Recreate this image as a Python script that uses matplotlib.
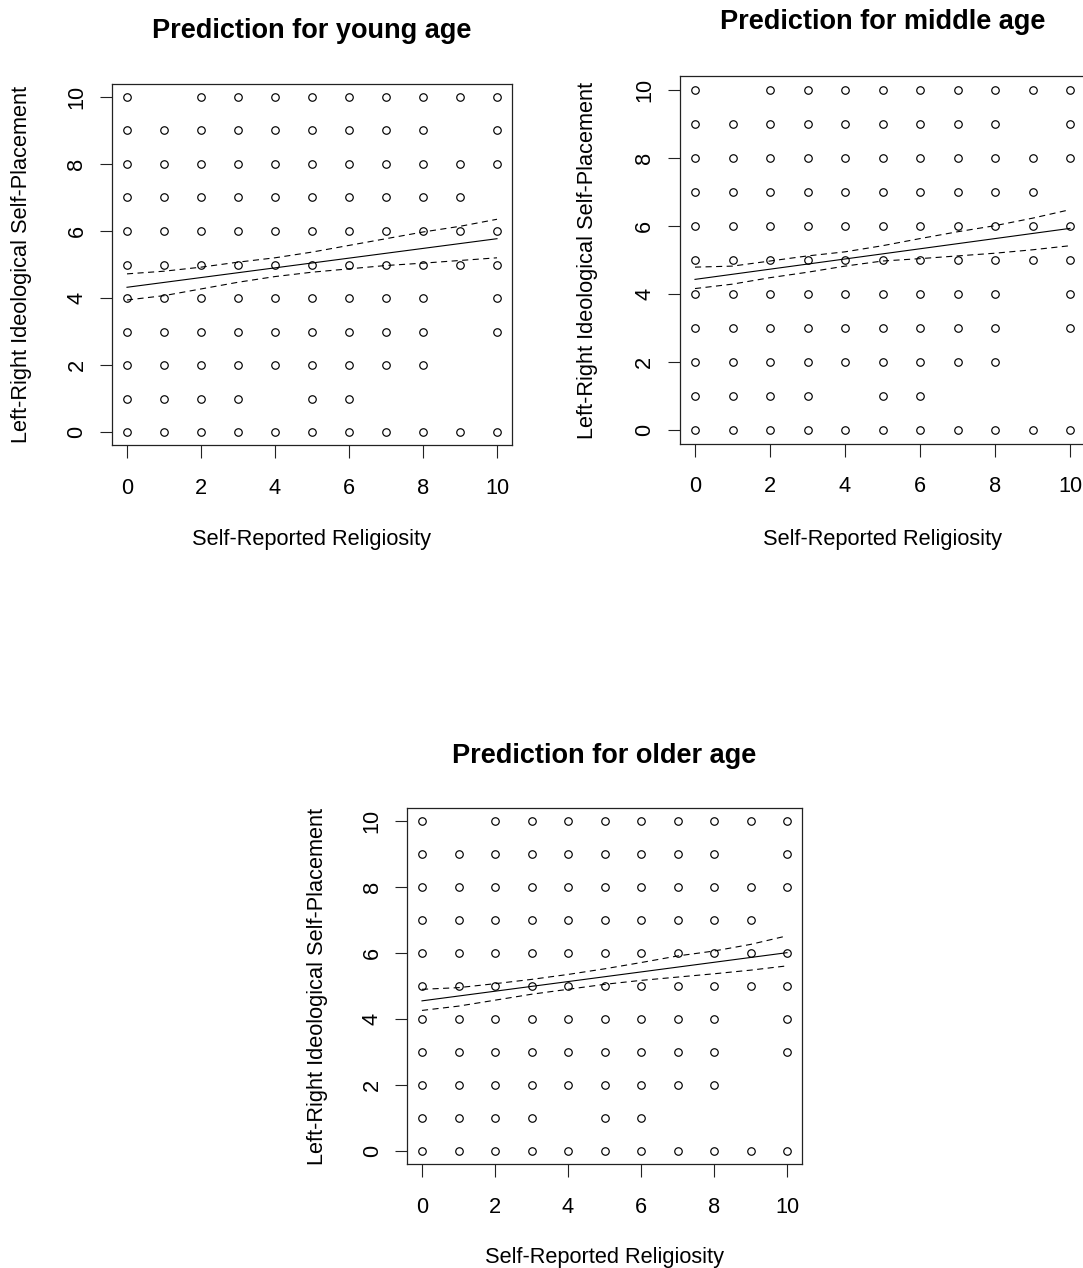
import matplotlib
matplotlib.use('Agg')
import matplotlib.pyplot as plt
import numpy as np

plt.rcParams['font.family'] = ['Liberation Sans', 'DejaVu Sans']

# --- data ---
religiosity_levels = list(range(0, 11))
ideology_levels = list(range(0, 11))
# (religiosity, ideology) cells with no observation
empty_cells = [(1, 10), (9, 9), (10, 7), (9, 4), (9, 3), (9, 2), (10, 2),
               (4, 1), (7, 1), (8, 1), (9, 1), (10, 1)]

band_x = [0, 1, 2, 3, 4, 5, 6, 7, 8, 9, 10]
fit_x = [0, 10]

young_fit = [4.32, 5.77]
young_upper = [4.72, 4.80, 4.92, 5.07, 5.20, 5.37, 5.57, 5.77, 5.97, 6.14, 6.35]
young_lower = [3.94, 4.07, 4.27, 4.47, 4.64, 4.77, 4.87, 4.97, 5.04, 5.12, 5.20]

middle_fit = [4.43, 5.93]
middle_upper = [4.79, 4.82, 4.97, 5.12, 5.24, 5.42, 5.63, 5.83, 6.01, 6.23, 6.48]
middle_lower = [4.16, 4.29, 4.48, 4.64, 4.82, 4.97, 5.04, 5.12, 5.20, 5.30, 5.42]

older_fit = [4.55, 6.01]
older_upper = [4.90, 4.95, 5.07, 5.20, 5.35, 5.52, 5.71, 5.91, 6.06, 6.26, 6.52]
older_lower = [4.26, 4.39, 4.57, 4.75, 4.90, 5.05, 5.17, 5.27, 5.37, 5.48, 5.61]

titles = ['Prediction for young age', 'Prediction for middle age', 'Prediction for older age']
xlabel = 'Self-Reported Religiosity'
ylabel = 'Left-Right Ideological Self-Placement'
ticks = [0, 2, 4, 6, 8, 10]

W, H = 1083, 1268
fig = plt.figure(figsize=(W / 100, H / 100), dpi=100)


def box(left, top, right, bottom):
    return [left / W, 1 - bottom / H, (right - left) / W, (bottom - top) / H]


# scatter points
px, py = [], []
for yv in ideology_levels:
    for xv in religiosity_levels:
        if (xv, yv) not in empty_cells:
            px.append(xv)
            py.append(yv)

panels = [
    # box px, title y, ylabel x, xlabel y, data
    (box(112.2, 83.6, 511.8, 445.4), 31, 22, 540, young_fit, young_upper, young_lower),
    (box(680, 76.4, 1085, 443.6), 22, 588, 539, middle_fit, middle_upper, middle_lower),
    (box(407.4, 807.8, 801.6, 1164.2), 756, 317, 1257, older_fit, older_upper, older_lower),
]

fs = 15.7
for i, (rect, ty, ylx, xly, fit, up, lo) in enumerate(panels):
    ax = fig.add_axes(rect)
    ax.plot(px, py, 'o', ms=5.4, mfc='none', mec='black', mew=0.85, ls='none')
    ax.plot(fit_x, fit, color='black', lw=0.8)
    ax.plot(band_x, up, color='black', lw=0.8, dashes=(5.5, 4))
    ax.plot(band_x, lo, color='black', lw=0.8, dashes=(5.5, 4))
    ax.set_xlim(-0.4, 10.4)
    ax.set_ylim(-0.4, 10.4)
    ax.set_xticks(ticks)
    ax.set_yticks(ticks)
    ax.set_xticklabels([str(t) for t in ticks], fontsize=fs)
    ax.set_yticklabels([str(t) for t in ticks], fontsize=fs, rotation=90, va='center')
    ax.tick_params(direction='out', length=9, width=0.8, color='#222222')
    ax.tick_params(axis='x', pad=14.5)
    ax.tick_params(axis='y', pad=8.8)
    for s in ax.spines.values():
        s.set_linewidth(0.9)
        s.set_color('#222222')
    x0, x1 = rect[0], rect[0] + rect[2]
    cx = (x0 + x1) / 2
    fig.text(cx, 1 - ty / H, titles[i], ha='center', va='center', fontsize=19.5, fontweight='bold')
    fig.text(cx, 1 - xly / H, xlabel, ha='center', va='center', fontsize=fs)
    fig.text(ylx / W, rect[1] + rect[3] / 2, ylabel, ha='center', va='center', rotation=90, fontsize=fs)

fig.savefig('out.png', dpi=100)
